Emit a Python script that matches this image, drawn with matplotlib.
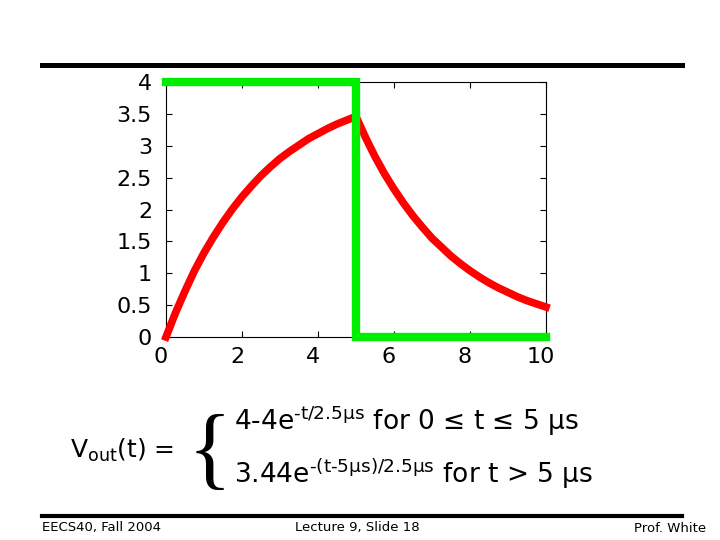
import numpy as np
import matplotlib.pyplot as plt
from matplotlib.lines import Line2D
from matplotlib.transforms import ScaledTranslation

plt.rcParams['font.family'] = ['DejaVu Sans']

# values (time in us, voltage in V)
t_red = [0, 0.25, 0.5, 0.75, 1, 1.25, 1.5, 1.75, 2, 2.25, 2.5, 2.75, 3, 3.25,
         3.5, 3.75, 4, 4.25, 4.5, 4.75, 5,
         5.25, 5.5, 5.75, 6, 6.25, 6.5, 6.75, 7, 7.25, 7.5, 7.75, 8, 8.25,
         8.5, 8.75, 9, 9.25, 9.5, 9.75, 10]
v_red = [0, 0.38, 0.72, 1.04, 1.32, 1.57, 1.80, 2.01, 2.20, 2.37, 2.53, 2.67,
         2.80, 2.91, 3.01, 3.11, 3.19, 3.27, 3.34, 3.40, 3.46,
         3.13, 2.83, 2.56, 2.32, 2.10, 1.90, 1.72, 1.55, 1.41, 1.27, 1.15,
         1.04, 0.94, 0.85, 0.77, 0.70, 0.63, 0.57, 0.52, 0.47]
t_green = [0, 5, 5, 10]
v_green = [4, 4, 0, 0]

xticks = [0, 2, 4, 6, 8, 10]
yticks = [0, 0.5, 1, 1.5, 2, 2.5, 3, 3.5, 4]
ylabels = ['0', '0.5', '1', '1.5', '2', '2.5', '3', '3.5', '4']

fig = plt.figure(figsize=(7.2, 5.4), dpi=100)
ax = fig.add_axes([166/720, 1-337/540, 380/720, 255/540])

ax.plot(t_red, v_red, color='#ff0000', lw=5.5, clip_on=False, zorder=3)
ax.plot(t_green, v_green, color='#00ee00', lw=6, clip_on=False, zorder=4,
        solid_joinstyle='miter')

ax.set_xlim(0, 10)
ax.set_ylim(0, 4)
ax.set_xticks(xticks)
ax.set_yticks(yticks)
ax.set_yticklabels(ylabels)
ax.tick_params(direction='in', length=4, width=0.8, top=True, right=True,
               labelsize=16)
ax.tick_params(axis='y', pad=10)
ax.tick_params(axis='x', pad=7)
for s in ax.spines.values():
    s.set_linewidth(0.8)
shift = ScaledTranslation(-5/100, 0, fig.dpi_scale_trans)
for lab in ax.get_xticklabels():
    lab.set_transform(lab.get_transform() + shift)

# slide rules
fig.add_artist(Line2D([42/720, 682/720], [1-65/540, 1-65/540],
                      color='black', lw=3.6, transform=fig.transFigure))
fig.add_artist(Line2D([42/720, 682/720], [1-516/540, 1-516/540],
                      color='black', lw=3, transform=fig.transFigure))

# formula
fig.text(70/720, 1-450/540, r'V$_{\mathregular{out}}$(t) =', fontsize=18,
         va='center', ha='left')
fig.text(188/720, 1-456/540, '{', fontsize=66, family='Liberation Serif',
         va='center', ha='left')
fig.text(234/720, 1-421/540,
         r'4‐4e$^{\mathregular{‐t/2.5μs}}$ for 0 ≤ t ≤ 5 μs',
         fontsize=19, va='center', ha='left')
fig.text(234/720, 1-474/540,
         r'3.44e$^{\mathregular{‐(t‐5μs)/2.5μs}}$ for t > 5 μs',
         fontsize=19, va='center', ha='left')

# footer
fig.text(42/720, 1-528/540, 'EECS40, Fall 2004', fontsize=9.5, va='center', ha='left')
fig.text(357/720, 1-528/540, 'Lecture 9, Slide 18', fontsize=9.5, va='center', ha='center')
fig.text(706/720, 1-528/540, 'Prof. White', fontsize=9.5, va='center', ha='right')

fig.savefig('out.png', dpi=100)
